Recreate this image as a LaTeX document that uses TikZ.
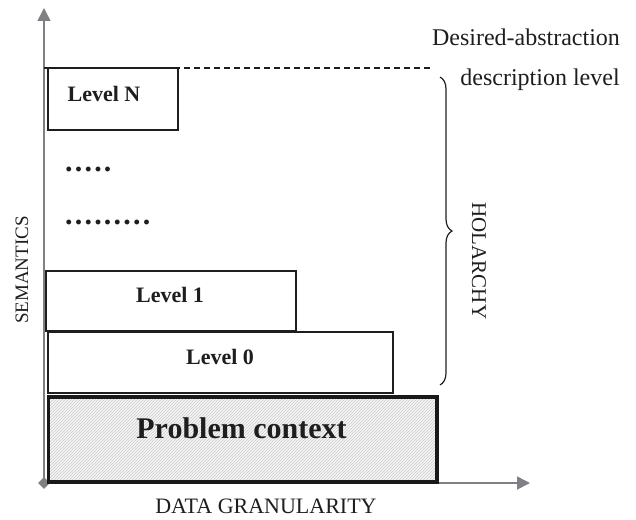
\documentclass[tikz,border=0pt]{standalone}
\usepackage{fontspec}
\setmainfont{Liberation Serif}
\usetikzlibrary{arrows.meta,patterns,decorations.pathreplacing,shapes.geometric}
\definecolor{axisgray}{RGB}{128,128,132}
\definecolor{inkblack}{RGB}{30,30,30}
\newcommand\spdot{.\hspace{2.2pt}}
\newcommand\fsz[1]{\fontsize{#1}{#1}\selectfont}
\begin{document}
\begin{tikzpicture}[x=1pt,y=-1pt,
  axis/.style={draw=axisgray, line width=1.5pt, -{Triangle[length=13pt,width=13pt]}},
  levelbox/.style={draw=inkblack, line width=1.2pt, fill=white, inner sep=0pt},
  contextbox/.style={draw=black!90, line width=3.5pt, inner sep=0pt,
    preaction={fill=gray!8}, pattern=north east lines, pattern color=gray!40},
  boxlabel/.style={inner sep=0pt, text=inkblack, font=\fsz{22}\bfseries},
  dotrow/.style={inner sep=0pt, anchor=base west, text=inkblack, font=\fsz{30}\bfseries},
  plain/.style={inner sep=0pt, text=inkblack, font=\fsz{#1}},
  plain/.default=22]
  \useasboundingbox (0,0) rectangle (636,519);

  % axes
  \coordinate (origin) at (44,483);
  \coordinate (ytip) at (44,8);
  \coordinate (xtip) at (530,483);
  \draw[axis] (origin) -- (ytip);
  \draw[axis] (origin) -- (xtip);
  \node[diamond, fill=axisgray, inner sep=0pt, minimum size=12pt] (originmark) at (origin) {};

  % levels of the holarchy
  \node[levelbox, minimum width=130pt, minimum height=62pt] (levelN) at (113,99) {};
  \node[levelbox, minimum width=250pt, minimum height=60pt] (level1) at (171,301) {};
  \node[levelbox, minimum width=345pt, minimum height=61pt] (level0) at (220.5,362.5) {};
  \node[contextbox, minimum width=388.5pt, minimum height=85pt] (context) at (242.75,439.5) {};

  % desired abstraction line
  \coordinate (dashstart) at (44,68);
  \coordinate (dashend) at (432,68);
  \draw[inkblack, line width=1.1pt, dash pattern=on 6pt off 4pt] (dashstart) -- (dashend);

  % labels in the boxes
  \node[boxlabel] (labelN) at (104,93.5) {Level N};
  \node[boxlabel] (label1) at (170,294.5) {Level 1};
  \node[boxlabel] (label0) at (220,357) {Level 0};
  \node[boxlabel, font=\fsz{30}\bfseries] (labelctx) at (241.5,428) {Problem context};

  % intermediate levels
  \node[dotrow] (dotsA) at (65,171) {\spdot\spdot\spdot\spdot.};
  \node[dotrow] (dotsB) at (65,224) {\spdot\spdot\spdot\spdot\spdot\spdot\spdot\spdot.};

  % brace spanning the holarchy
  \coordinate (bracetop) at (440,77);
  \coordinate (bracebot) at (440,385);
  \draw[inkblack, line width=1.2pt, decorate,
        decoration={brace, amplitude=12pt}] (bracetop) -- (bracebot);

  % texts
  \node[plain=24] (desired) at (526,37) {Desired-abstraction};
  \node[plain=24] (desclevel) at (540,80) {description level};
  \node[plain=21, rotate=-90] (holarchy) at (479,261) {HOLARCHY};
  \node[plain=19, rotate=90] (semantics) at (22,270) {SEMANTICS};
  \node[plain=22] (granularity) at (266,506) {DATA GRANULARITY};
\end{tikzpicture}
\end{document}
